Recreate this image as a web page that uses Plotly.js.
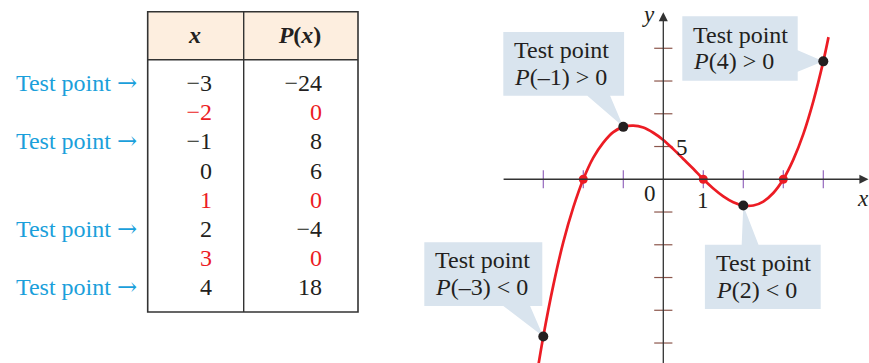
<!DOCTYPE html>
<html>
<head>
<title>Test points</title>
<script src="https://cdn.plot.ly/plotly-3.0.1.min.js"></script>
<style>
	body { margin: 0; background-color: white; }
</style>
</head>
<body>
<div id="chart" style="width:869px;height:363px;"></div>
<script>
	// table values
	var xVals = [-3, -2, -1, 0, 1, 2, 3, 4];
	var pVals = [-24, 0, 8, 6, 0, -4, 0, 18];
	var testRows = [0, 2, 5, 7];

	// curve
	var curveX = [-3.15, -3, -2.75, -2.5, -2.25, -2, -1.75, -1.5, -1.25, -1, -0.75, -0.5, -0.25, 0,
		0.25, 0.5, 0.75, 1, 1.25, 1.5, 1.75, 2, 2.25, 2.5, 2.75, 3, 3.25, 3.5, 3.75, 4, 4.13];
	var curveY = [-29.4, -24, -16.2, -9.6, -4.3, 0, 3.3, 5.6, 7.2, 8, 8.2, 7.9, 7.1, 6,
		4.6, 3.1, 1.6, 0, -1.4, -2.6, -3.5, -4, -4, -3.4, -2.1, 0, 3, 6.9, 11.9, 18, 21.7];

	var testX = [-3, -1, 2, 4];
	var testY = [-24, 8, -4, 18];
	var zeroX = [-2, 1, 3];
	var zeroY = [0, 0, 0];
	var tickX = [-3, -2, -1, 1, 2, 3, 4];
	var tickY = [-25, -20, -15, -10, -5, 5, 10, 15, 20];

	var calloutLine2 = ['<i>P</i>(–3) < 0', '<i>P</i>(–1) > 0', '<i>P</i>(2) < 0', '<i>P</i>(4) > 0'];

	var serif = 'Liberation Serif, Times New Roman, serif';
	var ink = '#231f20';
	var red = '#ec1c24';
	var blue = '#1a9fdb';
	var boxFill = '#d9e4ee';

	function fmt(v) { return v < 0 ? '\u2212' + Math.abs(v) : String(v); }

	// table: rows laid out in pixel units on x2/y2
	var rowTop = 85, rowH = 29.2;
	var rowY = xVals.map(function (v, i) { return rowTop + i * rowH; });
	var rowColor = pVals.map(function (p) { return p === 0 ? red : ink; });

	var traces = [];

	traces.push({
		x: xVals.map(function () { return 212; }), y: rowY,
		text: xVals.map(fmt), mode: 'text', textposition: 'middle left',
		textfont: { family: serif, size: 24, color: rowColor },
		xaxis: 'x2', yaxis: 'y2', hoverinfo: 'skip', showlegend: false
	});
	traces.push({
		x: pVals.map(function () { return 322; }), y: rowY,
		text: pVals.map(fmt), mode: 'text', textposition: 'middle left',
		textfont: { family: serif, size: 24, color: rowColor },
		xaxis: 'x2', yaxis: 'y2', hoverinfo: 'skip', showlegend: false
	});
	traces.push({
		x: testRows.map(function () { return 137; }),
		y: testRows.map(function (r) { return rowY[r]; }),
		text: testRows.map(function () {
			return 'Test point <span style="font-family:DejaVu Serif">\u2192</span>';
		}),
		mode: 'text', textposition: 'middle left',
		textfont: { family: serif, size: 24, color: blue },
		xaxis: 'x2', yaxis: 'y2', hoverinfo: 'skip', showlegend: false
	});
	traces.push({
		x: [195, 300], y: [37, 37],
		text: ['<b><i>x</i></b>', '<b><i>P</i>(<i>x</i>)</b>'],
		mode: 'text', textposition: 'middle center',
		textfont: { family: serif, size: 24, color: ink },
		xaxis: 'x2', yaxis: 'y2', hoverinfo: 'skip', showlegend: false
	});

	// graph
	traces.push({
		x: tickX, y: tickX.map(function () { return 0; }), mode: 'markers',
		marker: { symbol: 'line-ns-open', size: 13, line: { width: 1.2, color: '#3a3a3a' } },
		hoverinfo: 'skip', showlegend: false
	});
	traces.push({
		x: tickY.map(function () { return 0; }), y: tickY, mode: 'markers',
		marker: { symbol: 'line-ew-open', size: 13, line: { width: 1.2, color: '#3a3a3a' } },
		hoverinfo: 'skip', showlegend: false
	});
	traces.push({
		x: curveX, y: curveY, mode: 'lines',
		line: { color: red, width: 2.7, shape: 'spline', smoothing: 1 },
		hoverinfo: 'skip', showlegend: false
	});
	traces.push({
		x: zeroX, y: zeroY, mode: 'markers',
		marker: { color: red, size: 9 },
		hoverinfo: 'skip', showlegend: false
	});
	traces.push({
		x: testX, y: testY, mode: 'markers',
		marker: { color: ink, size: 10 },
		hoverinfo: 'skip', showlegend: false
	});

	// callout boxes: [x0, x1, yTop, yBottom], pointer side and base
	var boxes = [
		{ r: [-5.975, -3.025, -9.6, -19.35], side: 'bottom', base: [-4.0, -3.33] },
		{ r: [-4.0, -0.98, 22.5, 12.75], side: 'bottom', base: [-1.9, -1.33] },
		{ r: [1.04, 3.935, -10.0, -19.8], side: 'top', base: [1.96, 2.38] },
		{ r: [0.475, 3.36, 24.9, 15.05], side: 'right', base: [19.7, 16.4] }
	];

	var shapes = [];
	var annotations = [];

	boxes.forEach(function (b, i) {
		var x0 = b.r[0], x1 = b.r[1], yt = b.r[2], yb = b.r[3];
		var tx = testX[i], ty = testY[i];
		var p;
		if (b.side === 'bottom') {
			p = 'M' + x0 + ',' + yt + ' L' + x1 + ',' + yt + ' L' + x1 + ',' + yb +
				' L' + b.base[1] + ',' + yb + ' L' + tx + ',' + ty + ' L' + b.base[0] + ',' + yb +
				' L' + x0 + ',' + yb + ' Z';
		} else if (b.side === 'top') {
			p = 'M' + x0 + ',' + yt + ' L' + b.base[0] + ',' + yt + ' L' + tx + ',' + ty +
				' L' + b.base[1] + ',' + yt + ' L' + x1 + ',' + yt + ' L' + x1 + ',' + yb +
				' L' + x0 + ',' + yb + ' Z';
		} else {
			p = 'M' + x0 + ',' + yt + ' L' + x1 + ',' + yt + ' L' + x1 + ',' + b.base[0] +
				' L' + tx + ',' + ty + ' L' + x1 + ',' + b.base[1] + ' L' + x1 + ',' + yb +
				' L' + x0 + ',' + yb + ' Z';
		}
		shapes.push({ type: 'path', path: p, xref: 'x', yref: 'y', fillcolor: boxFill,
			line: { width: 0 }, layer: 'below' });
		annotations.push({ x: x0 + 0.22, y: yt - 2.8, xref: 'x', yref: 'y',
			text: 'Test point', showarrow: false, xanchor: 'left', yanchor: 'middle',
			font: { family: serif, size: 24, color: ink } });
		annotations.push({ x: x0 + 0.22, y: yt - 6.85, xref: 'x', yref: 'y',
			text: calloutLine2[i], showarrow: false, xanchor: 'left', yanchor: 'middle',
			font: { family: serif, size: 24, color: ink } });
	});

	// table frame
	var tL = 147.7, tM = 243.7, tR = 358, tT = 11.7, tH = 59.7, tB = 312;
	shapes.push({ type: 'rect', xref: 'x2', yref: 'y2', x0: tL, x1: tR, y0: tT, y1: tH,
		fillcolor: '#fdeedf', line: { width: 0 }, layer: 'below' });
	shapes.push({ type: 'rect', xref: 'x2', yref: 'y2', x0: tL, x1: tR, y0: tT, y1: tB,
		line: { width: 1.6, color: '#333' } });
	shapes.push({ type: 'line', xref: 'x2', yref: 'y2', x0: tM, x1: tM, y0: tT, y1: tB,
		line: { width: 1.4, color: '#333' } });
	shapes.push({ type: 'line', xref: 'x2', yref: 'y2', x0: tL, x1: tR, y0: tH, y1: tH,
		line: { width: 1.4, color: '#333' } });

	// axes with arrows
	annotations.push({ x: 5.13, y: 0, ax: -4.03, ay: 0, axref: 'x', ayref: 'y', xref: 'x', yref: 'y',
		text: '', showarrow: true, arrowhead: 2, arrowsize: 1.4, arrowwidth: 1.3, arrowcolor: '#333' });
	annotations.push({ x: 0, y: 25.5, ax: 0, ay: -28.5, axref: 'x', ayref: 'y', xref: 'x', yref: 'y',
		text: '', showarrow: true, arrowhead: 2, arrowsize: 1.4, arrowwidth: 1.3, arrowcolor: '#333' });

	var axisLabels = [
		{ x: -0.33, y: -2.2, text: '0' },
		{ x: 0.98, y: -3.2, text: '1' },
		{ x: 0.47, y: 4.9, text: '5' },
		{ x: -0.38, y: 25.1, text: '<i>y</i>' },
		{ x: 4.99, y: -2.9, text: '<i>x</i>' }
	];
	axisLabels.forEach(function (a) {
		annotations.push({ x: a.x, y: a.y, xref: 'x', yref: 'y', text: a.text, showarrow: false,
			font: { family: serif, size: 23, color: ink } });
	});

	var hidden = { showgrid: false, zeroline: false, showline: false, showticklabels: false, ticks: '', fixedrange: true };

	var layout = {
		width: 869,
		height: 363,
		margin: { l: 0, r: 0, t: 0, b: 0, pad: 0 },
		paper_bgcolor: 'white',
		plot_bgcolor: 'rgba(0,0,0,0)',
		showlegend: false,
		xaxis: Object.assign({ domain: [380 / 869, 1], range: [-7.0825, 5.1425] }, hidden),
		yaxis: Object.assign({ domain: [0, 1], range: [-28.05, 27.37] }, hidden),
		xaxis2: Object.assign({ domain: [0, 370 / 869], range: [0, 370], anchor: 'y2' }, hidden),
		yaxis2: Object.assign({ domain: [0, 1], range: [363, 0], anchor: 'x2' }, hidden),
		shapes: shapes,
		annotations: annotations
	};

	Plotly.newPlot('chart', traces, layout, { staticPlot: true, displayModeBar: false });
</script>
</body>
</html>
